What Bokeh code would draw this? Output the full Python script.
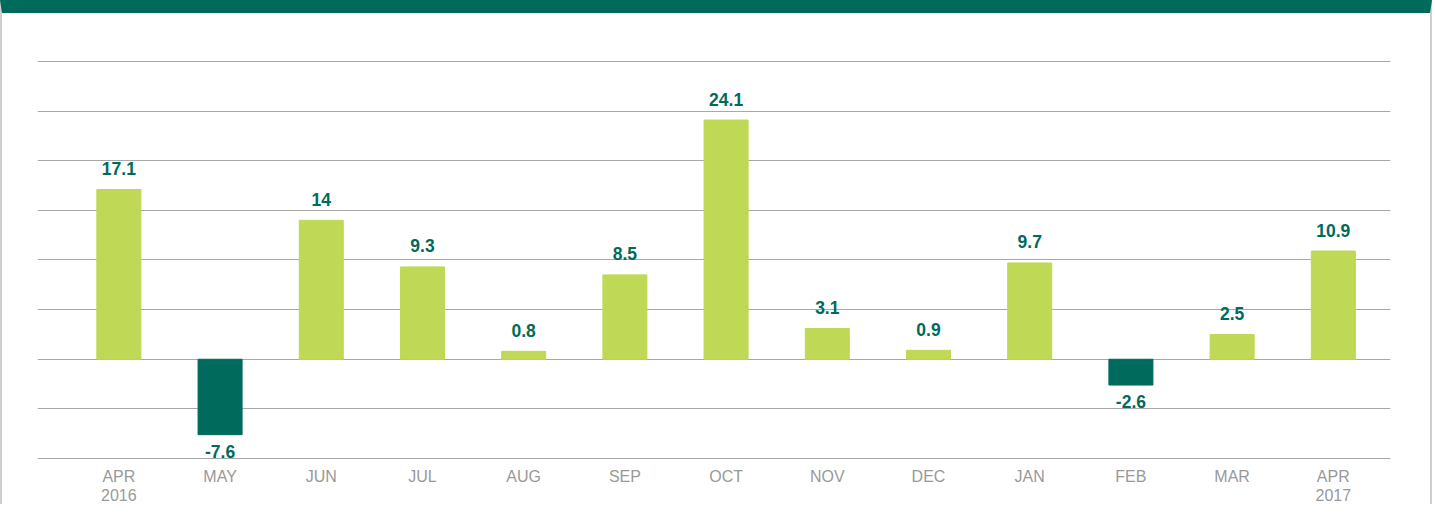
from bokeh.plotting import figure
from bokeh.models import ColumnDataSource, FixedTicker
from bokeh.core.properties import value
from bokeh.embed import file_html
from bokeh.resources import INLINE

# ---- data ----
months = ["APR", "MAY", "JUN", "JUL", "AUG", "SEP", "OCT", "NOV", "DEC", "JAN", "FEB", "MAR", "APR"]
years = ["2016", "", "", "", "", "", "", "", "", "", "", "", "2017"]
values = [17.1, -7.6, 14, 9.3, 0.8, 8.5, 24.1, 3.1, 0.9, 9.7, -2.6, 2.5, 10.9]
grid_ticks = [-10, -5, 0, 5, 10, 15, 20, 25, 30]

POS = "#BFD855"
NEG = "#006B5C"
LABEL = "#006B5C"
TOPBAR = "#006A5B"
BORDER = "#cfcfcf"

xs = list(range(len(values)))
colors = [POS if v >= 0 else NEG for v in values]
texts = [("%g" % v) for v in values]

src = ColumnDataSource(dict(x=xs, top=values, color=colors))
pos_src = ColumnDataSource(dict(x=[x for x, v in zip(xs, values) if v >= 0],
                                y=[v for v in values if v >= 0],
                                text=[t for t, v in zip(texts, values) if v >= 0]))
neg_src = ColumnDataSource(dict(x=[x for x, v in zip(xs, values) if v < 0],
                                y=[v for v in values if v < 0],
                                text=[t for t, v in zip(texts, values) if v < 0]))

# element is 1432 x 504 in total (the 13px top band and 2px side borders are inside it)
p = figure(width=1432, height=504, x_range=(-0.804, 12.565), y_range=(-10.1, 30.3),
           output_backend="svg", toolbar_location=None, y_axis_location=None,
           min_border_left=35, min_border_right=44, min_border_top=45, min_border_bottom=58)
p.outline_line_color = None
p.background_fill_color = "white"
p.border_fill_color = "white"

p.vbar(x="x", top="top", bottom=0, width=0.435, color="color", source=src)

p.text(x="x", y="y", text="text", source=pos_src, text_align="center",
       text_baseline="alphabetic", y_offset=-21, text_color=LABEL,
       text_font=value("Liberation Sans"), text_font_style="bold", text_font_size="17.5px")
p.text(x="x", y="y", text="text", source=neg_src, text_align="center",
       text_baseline="top", y_offset=10, text_color=LABEL,
       text_font=value("Liberation Sans"), text_font_style="bold", text_font_size="17.5px")

p.xgrid.visible = False
p.ygrid.ticker = FixedTicker(ticks=grid_ticks)
p.ygrid.grid_line_color = "#a8a8a8"
p.ygrid.grid_line_width = 1

ax = p.xaxis[0]
ax.ticker = FixedTicker(ticks=xs)
ax.major_label_overrides = {i: (m + ("\n" + y if y else "")) for i, (m, y) in enumerate(zip(months, years))}
ax.axis_line_color = None
ax.major_tick_line_color = None
ax.minor_tick_line_color = None
ax.major_tick_out = 0
ax.major_tick_in = 0
ax.major_label_standoff = 8
ax.major_label_text_color = "#999999"
ax.major_label_text_font = "Liberation Sans"
ax.major_label_text_font_size = "16px"
ax.major_label_text_line_height = 1.15

# dark band on top of the panel and thin side borders
p.styles = {"border-top": "13px solid " + TOPBAR,
            "border-left": "2px solid " + BORDER,
            "border-right": "2px solid " + BORDER}

open("out.html", "w").write(file_html(p, INLINE))
